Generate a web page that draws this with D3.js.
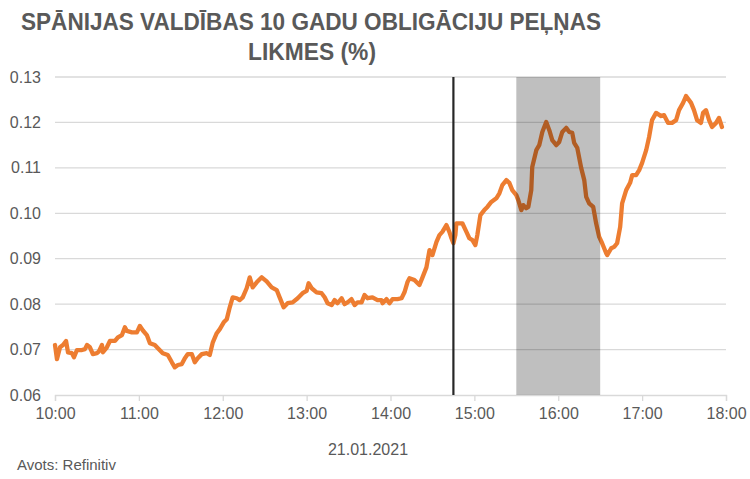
<!DOCTYPE html>
<html><head><meta charset="utf-8">
<script src="https://cdn.jsdelivr.net/npm/d3@7"></script>
<style>
html,body{margin:0;padding:0;background:#fff;}
svg text{font-family:"Liberation Sans Narrow","Liberation Sans",Arial,sans-serif;fill:#595959;}
</style></head>
<body><svg id="c" width="750" height="479"></svg>
<script>
const titleLines = ["SPĀNIJAS VALDĪBAS 10 GADU OBLIGĀCIJU PEĻŅAS", "LIKMES (%)"];
const dateLabel = "21.01.2021";
const sourceLabel = "Avots: Refinitiv";
const xTickLabels = ["10:00","11:00","12:00","13:00","14:00","15:00","16:00","17:00","18:00"];
const yTicks = [0.06,0.07,0.08,0.09,0.10,0.11,0.12,0.13];
const markerTime = 285;          // 14:45, minutes after 10:00
const shadeStart = 330, shadeEnd = 390; // 15:30 - 16:30
// minutes after 10:00
const minutes = [0,1.4,3.6,5.7,7.9,9.3,12.1,13.6,15.7,19.3,21.4,22.9,25,27.1,30,31.4,33.6,34.3,37.1,39.3,42.9,45,47.9,50,51.4,55,58.6,60.7,62.9,65.7,67.9,71.4,73.6,77.1,80.7,83.6,85.7,87.9,90.7,92.9,95,97.9,100,102.1,105,108.6,110.7,112.9,115.7,117.9,120.7,122.9,125,127.1,130,132.1,134.3,137.1,139.3,141.4,144.3,147.9,151.4,155,158.6,160.7,163.6,166.4,170,173.6,177.1,180,181.4,183.6,187.1,190.7,192.9,195,197.9,200,202.1,205,207.1,209.3,212.1,214.3,216.4,219.3,221.4,223.6,227.1,230.7,233.6,234.3,237.1,239.3,241.4,245,247.9,250,252.1,253.6,257.1,260.7,262.9,265.7,267.9,270,272.9,275,277.1,280,282.1,283.6,285,286.4,287.1,291.4,294.3,296.4,298.6,300.7,302.1,304.3,307.1,309.3,312.1,315.7,317.9,320,322.9,325,327.1,330,331.4,333.6,335,337.1,338.6,340.7,341.4,344.3,346.4,348.6,351.4,353.6,355.7,358.6,360.7,362.9,365.7,367.9,370,371.4,373.6,376.4,378.6,380,382.1,385,387.1,389.3,391.4,394.3,395,397.9,400,402.1,404.3,405.7,408.6,411.4,412.9,415.7,417.9,420,422.9,425,427.1,430,433.6,435.7,438.6,441.4,444.3,446.4,449.3,451.4,455,457.1,459.3,462.1,463.6,465.7,467.9,470,472.9,475,477.1];
const yields = [0.0710,0.0679,0.0705,0.0710,0.0719,0.0694,0.0692,0.0683,0.0699,0.0699,0.0701,0.0710,0.0705,0.0690,0.0692,0.0696,0.0710,0.0694,0.0705,0.0719,0.0719,0.0727,0.0732,0.0749,0.0741,0.0738,0.0738,0.0752,0.0742,0.0732,0.0714,0.0710,0.0703,0.0692,0.0688,0.0672,0.0661,0.0666,0.0668,0.0681,0.0690,0.0690,0.0672,0.0681,0.0690,0.0692,0.0688,0.0716,0.0736,0.0745,0.0760,0.0767,0.0793,0.0815,0.0813,0.0809,0.0815,0.0835,0.0859,0.0837,0.0848,0.0859,0.0850,0.0837,0.0831,0.0815,0.0793,0.0802,0.0804,0.0813,0.0824,0.0829,0.0846,0.0835,0.0826,0.0824,0.0815,0.0802,0.0798,0.0809,0.0802,0.0813,0.0800,0.0804,0.0811,0.0798,0.0804,0.0804,0.0820,0.0813,0.0815,0.0809,0.0809,0.0802,0.0811,0.0802,0.0811,0.0811,0.0813,0.0826,0.0848,0.0857,0.0853,0.0842,0.0859,0.0881,0.0919,0.0908,0.0937,0.0952,0.0959,0.0974,0.0959,0.0945,0.0934,0.0952,0.0978,0.0978,0.0959,0.0945,0.0941,0.0930,0.0952,0.0996,0.1007,0.1014,0.1025,0.1033,0.1044,0.1062,0.1073,0.1067,0.1051,0.1040,0.1029,0.1007,0.1018,0.1011,0.1014,0.1051,0.1102,0.1139,0.1150,0.1179,0.1201,0.1183,0.1161,0.1150,0.1157,0.1179,0.1188,0.1179,0.1177,0.1155,0.1144,0.1100,0.1073,0.1036,0.1022,0.1014,0.0978,0.0948,0.0934,0.0912,0.0908,0.0923,0.0926,0.0934,0.0970,0.1022,0.1051,0.1067,0.1084,0.1084,0.1095,0.1111,0.1139,0.1168,0.1205,0.1221,0.1214,0.1216,0.1199,0.1199,0.1205,0.1227,0.1243,0.1258,0.1243,0.1227,0.1205,0.1199,0.1221,0.1227,0.1205,0.1190,0.1199,0.1210,0.1190];

const svg = d3.select("#c");
const x = d3.scaleLinear().domain([0,480]).range([55,726]);
const y = d3.scaleLinear().domain([0.06,0.13]).range([395,77]);
const data = minutes.map((m,i)=>({m, v:yields[i]}));

// title
const tl = svg.append("g");
tl.append("text").attr("x",311).attr("y",30).attr("text-anchor","middle")
  .attr("font-size",24).attr("font-weight","bold").attr("textLength",580).attr("lengthAdjust","spacingAndGlyphs")
  .text(titleLines[0]);
tl.append("text").attr("x",312).attr("y",60).attr("text-anchor","middle")
  .attr("font-size",24).attr("font-weight","bold").attr("textLength",128).attr("lengthAdjust","spacingAndGlyphs")
  .text(titleLines[1]);

// gridlines
svg.append("g").selectAll("line").data(yTicks.slice(1)).join("line")
  .attr("x1",x(0)).attr("x2",x(480)).attr("y1",d=>y(d)).attr("y2",d=>y(d))
  .attr("stroke","#d9d9d9").attr("stroke-width",1.3);

// x axis
const xa = d3.axisBottom(x).tickValues(d3.range(0,481,60)).tickSize(6).tickFormat((d,i)=>xTickLabels[i]);
const gx = svg.append("g").attr("transform",`translate(0,${y(0.06)})`).call(xa);
gx.select(".domain").attr("stroke","#d9d9d9").attr("stroke-width",1.3);
gx.selectAll(".tick line").attr("stroke","#d9d9d9").attr("stroke-width",1.3);
gx.selectAll(".tick text").attr("font-size",16).attr("dy","0.95em").style("fill","#595959")
  .attr("font-family","\"Liberation Sans Narrow\",\"Liberation Sans\",sans-serif");

// y axis labels
const ya = d3.axisLeft(y).tickValues(yTicks).tickSize(0).tickPadding(14).tickFormat(d3.format(".2f"));
const gy = svg.append("g").attr("transform",`translate(${x(0)},0)`).call(ya);
gy.select(".domain").remove();
gy.selectAll(".tick text").attr("font-size",16).style("fill","#595959")
  .attr("font-family","\"Liberation Sans Narrow\",\"Liberation Sans\",sans-serif");

// line
const line = d3.line().x(d=>x(d.m)).y(d=>y(d.v));
svg.append("path").datum(data).attr("d",line).attr("fill","none")
  .attr("stroke","#ed7d31").attr("stroke-width",4.3).attr("stroke-linejoin","round").attr("stroke-linecap","round");

// shaded region over line
svg.append("rect").attr("x",x(shadeStart)).attr("width",x(shadeEnd)-x(shadeStart))
  .attr("y",y(0.13)).attr("height",y(0.06)-y(0.13)).attr("fill","#000").attr("fill-opacity",0.25);

// marker line
svg.append("line").attr("x1",x(markerTime)).attr("x2",x(markerTime)).attr("y1",y(0.13)).attr("y2",y(0.06))
  .attr("stroke","#262626").attr("stroke-width",2.2);

// labels
svg.append("text").attr("x",368).attr("y",455).attr("text-anchor","middle").attr("font-size",16).text(dateLabel);
svg.append("text").attr("x",17).attr("y",470).attr("font-size",15).text(sourceLabel);
</script></body></html>
